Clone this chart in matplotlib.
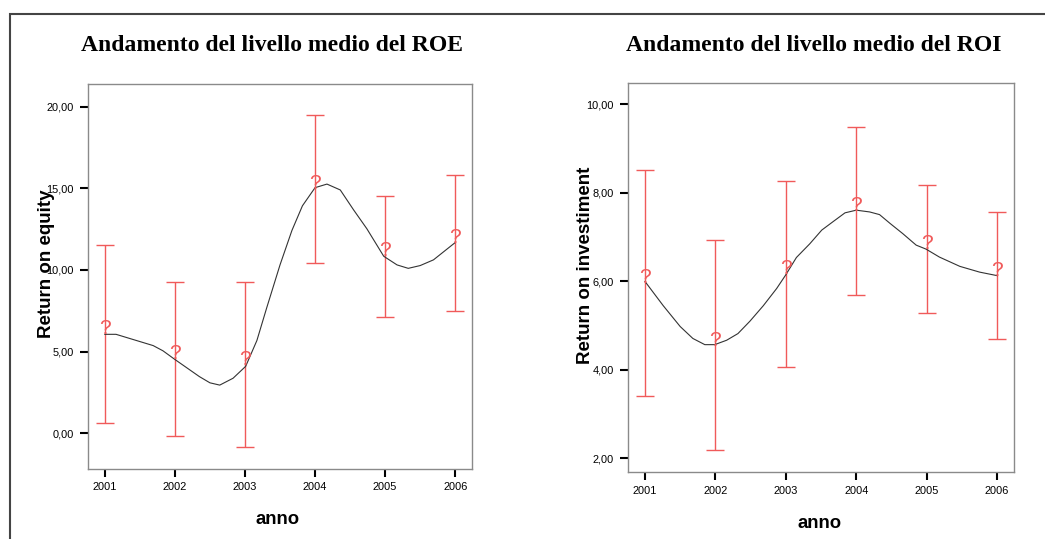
import numpy as np
import matplotlib
matplotlib.use("Agg")
import matplotlib.pyplot as plt
from matplotlib.patches import Rectangle

years = [2001, 2002, 2003, 2004, 2005, 2006]
year_labels = ['2001', '2002', '2003', '2004', '2005', '2006']

# ROE: mean and 95% interval per year
roe_mean = [6.08, 4.53, 4.20, 14.96, 10.84, 11.66]
roe_low = [0.61, -0.17, -0.84, 10.42, 7.11, 7.49]
roe_high = [11.55, 9.24, 9.24, 19.50, 14.56, 15.83]

# smoothed line as drawn in the original
roe_line_x = [2001.0, 2001.16, 2001.69, 2001.83, 2002.0, 2002.35, 2002.5, 2002.64,
              2002.83, 2003.01, 2003.17, 2003.31, 2003.5, 2003.67, 2003.82, 2004.0,
              2004.17, 2004.36, 2004.55, 2004.74, 2004.98, 2005.17, 2005.33, 2005.5,
              2005.69, 2006.0]
roe_line_y = [6.06, 6.06, 5.37, 5.05, 4.52, 3.47, 3.09, 2.95,
              3.37, 4.10, 5.68, 7.68, 10.31, 12.42, 13.93, 15.04,
              15.26, 14.90, 13.68, 12.52, 10.84, 10.31, 10.10, 10.27,
              10.62, 11.68]
roe_ticks = [0, 5, 10, 15, 20]
roe_tick_labels = ['0,00', '5,00', '10,00', '15,00', '20,00']

# ROI
roi_mean = [5.97, 4.55, 6.16, 7.60, 6.74, 6.13]
roi_low = [3.41, 2.18, 4.06, 5.70, 5.29, 4.69]
roi_high = [8.52, 6.93, 8.26, 9.49, 8.19, 7.57]

roi_line_x = [2001.0, 2001.26, 2001.5, 2001.68, 2001.85, 2001.99, 2002.16, 2002.32,
              2002.49, 2002.68, 2002.87, 2003.0, 2003.15, 2003.34, 2003.51, 2003.67,
              2003.84, 2004.0, 2004.19, 2004.33, 2004.48, 2004.66, 2004.85, 2004.99,
              2005.18, 2005.47, 2005.75, 2006.0]
roi_line_y = [6.00, 5.45, 4.98, 4.71, 4.57, 4.57, 4.67, 4.82,
              5.10, 5.45, 5.84, 6.15, 6.54, 6.85, 7.16, 7.35,
              7.55, 7.61, 7.57, 7.51, 7.31, 7.08, 6.82, 6.73,
              6.55, 6.34, 6.21, 6.13]
roi_ticks = [2, 4, 6, 8, 10]
roi_tick_labels = ['2,00', '4,00', '6,00', '8,00', '10,00']

RED = '#f05a5a'
SANS = ['Liberation Sans', 'DejaVu Sans']
SERIF = ['Liberation Serif', 'DejaVu Serif']


def draw_panel(ax, mean, low, high, line_x, line_y, ticks, tick_labels, ylim,
               title, ylabel, title_pos, xlabel_pos, ylabel_pos):
    mean = np.array(mean)
    err = [mean - np.array(low), np.array(high) - mean]
    ax.errorbar(years, mean, yerr=err, fmt='none', ecolor=RED, elinewidth=1.0,
                capsize=6.4, capthick=1.0, zorder=2)
    ax.plot(line_x, line_y, color='#333333', lw=0.8, zorder=3)
    for x, m in zip(years, mean):
        ax.text(x, m, '?', color=RED, fontsize=15, ha='center', va='baseline',
                family=SANS, zorder=4)

    ax.set_xlim(2000.76, 2006.24)
    ax.set_ylim(*ylim)
    ax.set_xticks(years)
    ax.set_xticklabels(year_labels, family=SANS, fontsize=7.9)
    ax.set_yticks(ticks)
    ax.set_yticklabels(tick_labels, family=SANS, fontsize=7.9)
    ax.tick_params(axis='both', direction='out', length=5.8, width=1.5,
                   color='black')
    ax.tick_params(axis='y', pad=4.3)
    ax.tick_params(axis='x', pad=3.6)
    for s in ax.spines.values():
        s.set_color('#8a8a8a')
        s.set_linewidth(1.0)

    ax.text(title_pos[0], title_pos[1], title, transform=ax.transAxes,
            ha='center', va='center', fontsize=17, fontweight='bold', family=SERIF)
    ax.set_xlabel('anno', fontsize=13.3, fontweight='bold', family=SANS, va='center')
    ax.xaxis.set_label_coords(*xlabel_pos)
    ax.set_ylabel(ylabel, fontsize=13.5, fontweight='bold', family=SANS, va='center')
    ax.yaxis.set_label_coords(*ylabel_pos)


fig = plt.figure(figsize=(10.45, 5.39), dpi=100)
ax0 = fig.add_axes([0.0842, 0.1304, 0.3675, 0.7141])
ax1 = fig.add_axes([0.6010, 0.1234, 0.3694, 0.7222])

draw_panel(ax0, roe_mean, roe_low, roe_high, roe_line_x, roe_line_y,
           roe_ticks, roe_tick_labels, (-2.17, 21.40),
           'Andamento del livello medio del ROE', 'Return on equity',
           (0.479, 1.10), (0.494, -0.132), (-0.1076, 0.5326))
draw_panel(ax1, roi_mean, roi_low, roi_high, roi_line_x, roi_line_y,
           roi_ticks, roi_tick_labels, (1.68, 10.48),
           'Andamento del livello medio del ROI', 'Return on investiment',
           (0.482, 1.098), (0.495, -0.132), (-0.1114, 0.5317))

# outer frame, open at right and bottom like the cropped original
fig.add_artist(Rectangle((9.5 / 1045, -0.05), 1.1, 1 - 14 / 539 + 0.05,
                         transform=fig.transFigure, fill=False,
                         edgecolor='#444444', linewidth=1.5, clip_on=False))

fig.savefig('out.png', dpi=100)
